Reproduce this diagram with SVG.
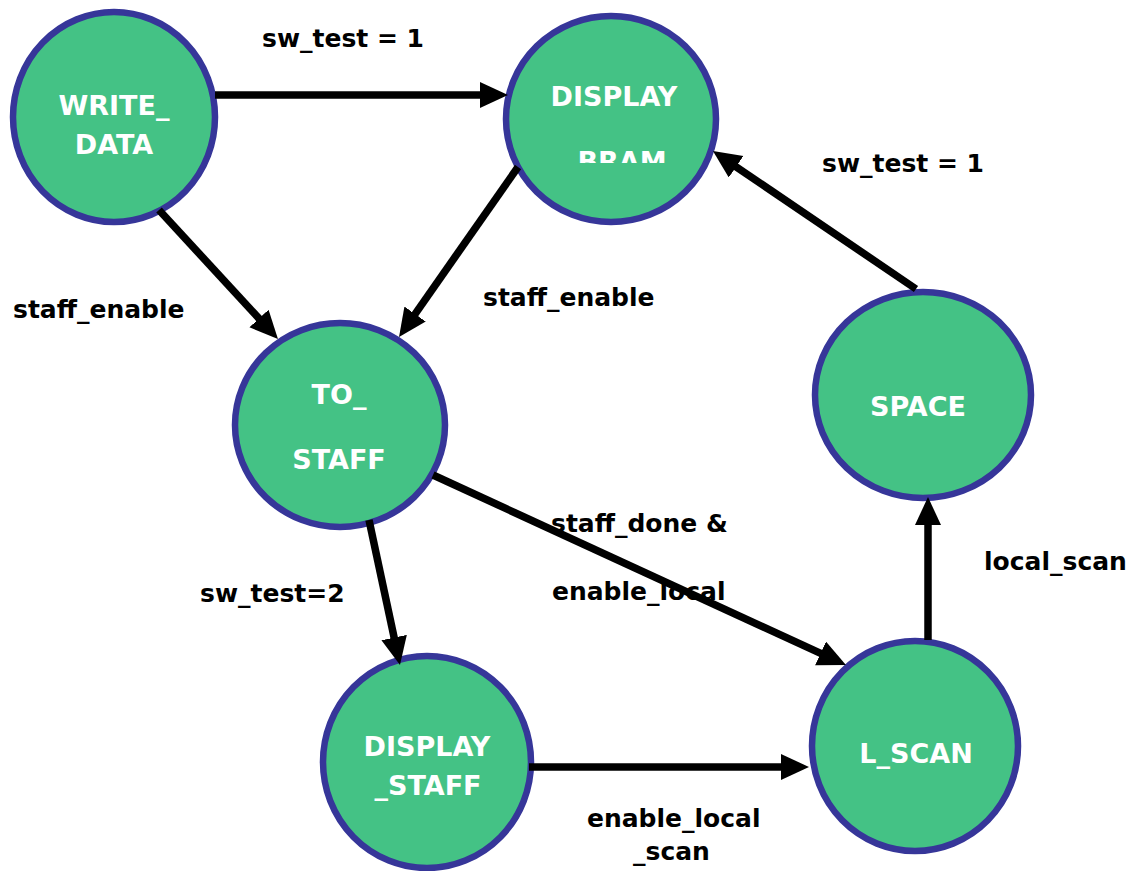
<svg xmlns="http://www.w3.org/2000/svg" width="1138" height="871" viewBox="0 0 1138 871">
  <style>
    .node { fill: #44C285; stroke: #363699; stroke-width: 6.5; }
    .nlabel { font-family: "DejaVu Sans", sans-serif; font-weight: bold; font-size: 27px; fill: #FFFFFF; text-anchor: middle; }
    .elabel { font-family: "DejaVu Sans", sans-serif; font-weight: bold; font-size: 25px; fill: #000000; }
    .edge { stroke: #000000; stroke-width: 7.5; fill: none; marker-end: url(#arrow); }
  </style>
  <defs>
    <marker id="arrow" markerUnits="userSpaceOnUse" markerWidth="30" markerHeight="28" refX="8" refY="13" orient="auto">
      <path d="M0,0 L28,13 L0,26 Z" fill="#000000"/>
    </marker>
    <clipPath id="bramClip">
      <rect x="500" y="0" width="230" height="163"/>
    </clipPath>
  </defs>
  <rect width="1138" height="871" fill="#FFFFFF"/>

  <g id="write_data">
    <ellipse class="node" cx="114" cy="117" rx="101" ry="105"/>
    <text class="nlabel" x="114" y="115">WRITE_</text>
    <text class="nlabel" x="114" y="154">DATA</text>
  </g>
  <g id="display_bram">
    <ellipse class="node" cx="611" cy="119" rx="105" ry="103"/>
    <text class="nlabel" x="614" y="106">DISPLAY</text>
    <text class="nlabel" x="622" y="171" clip-path="url(#bramClip)">BRAM</text>
  </g>
  <g id="to_staff">
    <ellipse class="node" cx="340" cy="425" rx="105" ry="102"/>
    <text class="nlabel" x="339" y="404">TO_</text>
    <text class="nlabel" x="339" y="469">STAFF</text>
  </g>
  <g id="space">
    <ellipse class="node" cx="923" cy="395" rx="108" ry="103"/>
    <text class="nlabel" x="918" y="416">SPACE</text>
  </g>
  <g id="display_staff">
    <ellipse class="node" cx="427" cy="762" rx="104" ry="106"/>
    <text class="nlabel" x="427" y="756">DISPLAY</text>
    <text class="nlabel" x="428" y="795">_STAFF</text>
  </g>
  <g id="l_scan">
    <ellipse class="node" cx="915" cy="746" rx="103" ry="105"/>
    <text class="nlabel" x="916" y="763">L_SCAN</text>
  </g>

  <g id="connectors">
    <line class="edge" x1="215" y1="95" x2="488" y2="95"/>
    <line class="edge" x1="159" y1="210" x2="264.4" y2="324.4"/>
    <line class="edge" x1="518" y1="167" x2="410.5" y2="320.6"/>
    <line class="edge" x1="916" y1="289" x2="729.5" y2="162.3"/>
    <line class="edge" x1="433" y1="475" x2="827.8" y2="656.7"/>
    <line class="edge" x1="369" y1="520" x2="395.8" y2="645.4"/>
    <line class="edge" x1="529" y1="767" x2="789" y2="767"/>
    <line class="edge" x1="928" y1="640" x2="928" y2="517"/>
  </g>

  <g id="edge_labels">
    <text class="elabel" x="262" y="47">sw_test = 1</text>
    <text class="elabel" x="822" y="172">sw_test = 1</text>
    <text class="elabel" x="13" y="318">staff_enable</text>
    <text class="elabel" x="483" y="306">staff_enable</text>
    <text class="elabel" x="551" y="532">staff_done &amp;</text>
    <text class="elabel" x="552" y="600">enable_local</text>
    <text class="elabel" x="200" y="602">sw_test=2</text>
    <text class="elabel" x="984" y="570">local_scan</text>
    <text class="elabel" x="587" y="827">enable_local</text>
    <text class="elabel" x="633" y="860">_scan</text>
  </g>
</svg>
